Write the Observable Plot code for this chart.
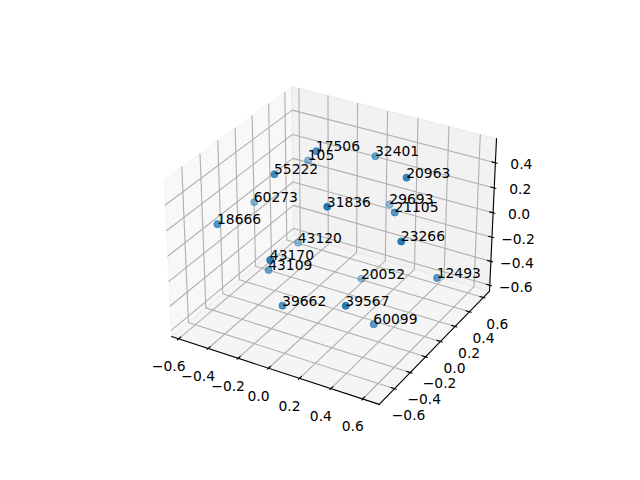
<!DOCTYPE html>
<html><head><meta charset="utf-8">
<script src="https://cdn.jsdelivr.net/npm/d3@7"></script>
<script src="https://cdn.jsdelivr.net/npm/@observablehq/plot@0.6"></script>
<style>html,body{margin:0;background:#fff}svg{display:block}</style>
</head><body><div id="c"></div><script>
// Values
const ids=[18666,60273,55222,105,17506,31836,43120,32401,20963,29693,21105,23266,43170,43109,39662,20052,12493,39567,60099];
const xs=[-0.469,-0.597,-0.218,-0.384,-0.093,0.251,-0.357,0.076,0.479,0.055,0.332,0.600,0.007,-0.291,-0.041,-0.021,0.630,0.428,0.387];
const ys=[-0.528,0.114,-0.301,0.404,-0.033,-0.549,0.221,0.383,-0.034,0.627,0.127,-0.338,-0.760,-0.261,-0.545,0.405,0.083,-0.667,-0.237];
const zs=[0.170,-0.046,0.522,0.214,0.602,0.563,-0.359,0.407,0.586,-0.117,0.181,0.306,0.190,-0.286,-0.313,-0.647,-0.210,-0.061,-0.487];
const xTicks=[-0.6,-0.4,-0.2,0,0.2,0.4,0.6];
const yTicks=[-0.6,-0.4,-0.2,0,0.2,0.4,0.6];
const zTicks=[-0.6,-0.4,-0.2,0,0.2,0.4];
const xLim=[-0.648,0.702],yLim=[-0.79,0.69],zLim=[-0.651,0.59];

// 3D view: elevation 30, azimuth -60, distance 10
const A=[4,4,3].map(v=>v*1.8294640721620434*25/24/Math.hypot(4,4,3));
const el=30*Math.PI/180,az=-60*Math.PI/180;
const wv=[Math.cos(el)*Math.cos(az),Math.cos(el)*Math.sin(az),Math.sin(el)];
const R=A.map(v=>v/2);
const eye=R.map((v,i)=>v+10*wv[i]);
const cross=(a,b)=>[a[1]*b[2]-a[2]*b[1],a[2]*b[0]-a[0]*b[2],a[0]*b[1]-a[1]*b[0]];
const dot=(a,b)=>a[0]*b[0]+a[1]*b[1]+a[2]*b[2];
let uv=cross([0,0,1],wv);{const n=Math.hypot(...uv);uv=uv.map(v=>v/n);}
const vv=cross(wv,uv);
function world(x,y,z){return [(x-xLim[0])/(xLim[1]-xLim[0])*A[0],(y-yLim[0])/(yLim[1]-yLim[0])*A[1],(z-zLim[0])/(zLim[1]-zLim[0])*A[2]];}
function proj(x,y,z){const w=world(x,y,z),d=w.map((c,i)=>c-eye[i]),zv=dot(wv,d);
  return {px:dot(uv,d)/-zv,py:dot(vv,d)/-zv,depth:dot(wv,w.map((c,i)=>c-R[i]))};}
const P=(x,y,z,extra={})=>{const p=proj(x,y,z);return {px:p.px,py:p.py,...extra};};

const [x0,x1]=xLim,[y0,y1]=yLim,[z0,z1]=zLim;
const pane=(pts)=>pts.map(q=>P(...q));
const leftPane=pane([[x0,y0,z0],[x0,y1,z0],[x0,y1,z1],[x0,y0,z1],[x0,y0,z0]]);
const backPane=pane([[x0,y1,z0],[x1,y1,z0],[x1,y1,z1],[x0,y1,z1],[x0,y1,z0]]);
const floorPane=pane([[x0,y0,z0],[x1,y0,z0],[x1,y1,z0],[x0,y1,z0],[x0,y0,z0]]);

const grid=[];
xTicks.forEach((t,i)=>{const k="x"+i;[[t,y0,z0],[t,y1,z0],[t,y1,z1]].forEach(q=>grid.push(P(...q,{k})));});
yTicks.forEach((t,i)=>{const k="y"+i;[[x1,t,z0],[x0,t,z0],[x0,t,z1]].forEach(q=>grid.push(P(...q,{k})));});
zTicks.forEach((t,i)=>{const k="z"+i;[[x0,y0,t],[x0,y1,t],[x1,y1,t]].forEach(q=>grid.push(P(...q,{k})));});

const axes=[];
[[x0,y0,z0],[x1,y0,z0]].forEach(q=>axes.push(P(...q,{k:"x"})));
[[x1,y0,z0],[x1,y1,z0]].forEach(q=>axes.push(P(...q,{k:"y"})));
[[x1,y1,z0],[x1,y1,z1]].forEach(q=>axes.push(P(...q,{k:"z"})));

const ty=(y1-y0)/12,tx=(x1-x0)/12;
const ticks=[];
xTicks.forEach((t,i)=>{const k="x"+i;ticks.push(P(t,y0-0.1*ty,z0,{k}),P(t,y0+0.2*ty,z0,{k}));});
yTicks.forEach((t,i)=>{const k="y"+i;ticks.push(P(x1+0.1*tx,t,z0,{k}),P(x1-0.2*tx,t,z0,{k}));});
zTicks.forEach((t,i)=>{const k="z"+i;ticks.push(P(x1+0.1*tx,y1,t,{k}),P(x1-0.2*tx,y1,t,{k}));});

const fmt=t=>t.toFixed(1).replace("-","\u2212");
const xLabels=xTicks.map(t=>P(t,y0,z0,{t:fmt(t)}));
const yLabels=yTicks.map(t=>P(x1,t,z0,{t:fmt(t)}));
const zLabels=zTicks.map(t=>P(x1,y1,t,{t:fmt(t)}));

const pts=ids.map((id,i)=>{const p=proj(xs[i],ys[i],zs[i]);return {id:String(id),...p};});
const dmin=d3.min(pts,d=>d.depth),dmax=d3.max(pts,d=>d.depth);
pts.forEach(d=>d.alpha=0.42+0.58*(d.depth-dmin)/(dmax-dmin));
const sorted=d3.sort(pts,d=>d.depth);

const font="DejaVu Sans",fs=13.89;
const chart=Plot.plot({
  width:640,height:480,marginTop:0,marginRight:0,marginBottom:0,marginLeft:0,
  style:{background:"#fff",fontFamily:font,fontSize:fs+"px",color:"#000"},
  x:{axis:null,domain:[-0.095,0.09],range:[143.2,512.8]},
  y:{axis:null,domain:[-0.095,0.09],range:[427.2,57.6]},
  marks:[
    Plot.line(leftPane,{x:"px",y:"py",fill:"rgb(242,242,242)",fillOpacity:0.5,stroke:"rgb(242,242,242)",strokeOpacity:0.5,strokeWidth:1.39}),
    Plot.line(backPane,{x:"px",y:"py",fill:"rgb(230,230,230)",fillOpacity:0.5,stroke:"rgb(230,230,230)",strokeOpacity:0.5,strokeWidth:1.39}),
    Plot.line(floorPane,{x:"px",y:"py",fill:"rgb(236,236,236)",fillOpacity:0.5,stroke:"rgb(236,236,236)",strokeOpacity:0.5,strokeWidth:1.39}),
    Plot.line(grid,{x:"px",y:"py",z:"k",stroke:"#b0b0b0",strokeWidth:1.11,curve:"linear"}),
    Plot.line(axes,{x:"px",y:"py",z:"k",stroke:"#000",strokeWidth:1.11}),
    Plot.line(ticks,{x:"px",y:"py",z:"k",stroke:"#000",strokeWidth:1.11}),
    Plot.text(xLabels,{x:"px",y:"py",text:"t",dx:-10,dy:28,fontSize:fs,fill:"#000"}),
    Plot.text(yLabels,{x:"px",y:"py",text:"t",dx:14,dy:27,fontSize:fs,fill:"#000"}),
    Plot.text(zLabels,{x:"px",y:"py",text:"t",dx:26,dy:2,fontSize:fs,fill:"#000"}),
    Plot.dot(sorted,{x:"px",y:"py",r:3.5,fill:"#1f77b4",stroke:"#1f77b4",strokeWidth:1,
      fillOpacity:{value:d=>d.alpha,scale:null},strokeOpacity:{value:d=>d.alpha,scale:null}}),
    Plot.text(pts,{x:"px",y:"py",text:"id",dx:-0.4,textAnchor:"start",lineAnchor:"bottom",fontSize:fs,fill:"#000"})
  ]
});
document.getElementById("c").appendChild(chart);
</script></body></html>
